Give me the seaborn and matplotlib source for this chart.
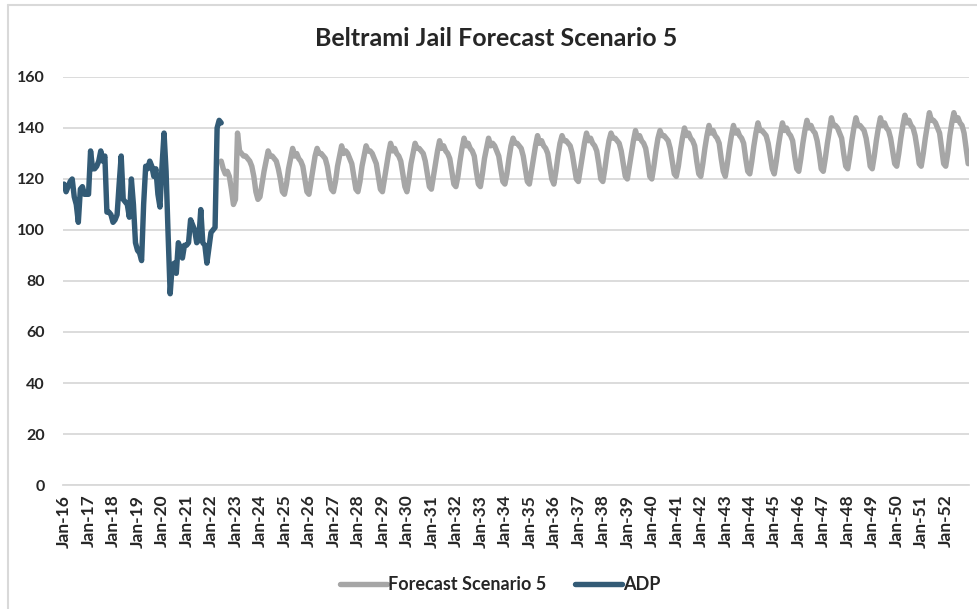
import pandas as pd
import matplotlib
matplotlib.use("Agg")
import matplotlib.pyplot as plt
import seaborn as sns
from matplotlib.lines import Line2D

# Month categories Jan-16 .. Dec-52
months = pd.date_range("2016-01-01", "2052-12-01", freq="MS")
month_labels = [d.strftime("%b-%y") for d in months]

# Actual average daily population, Jan-16 .. Jun-22
adp = [
    118, 115, 117, 119, 120, 113, 110, 103, 116, 117, 114, 114,   # 2016
    114, 131, 124, 124, 125, 127, 131, 127, 129, 107, 107, 106,   # 2017
    103, 104, 106, 118, 129, 112, 111, 110, 105, 120, 110, 95,    # 2018
    92, 91, 88, 110, 125, 124, 127, 125, 121, 124, 114, 109,      # 2019
    125, 138, 123, 98, 75, 86, 87, 83, 95, 93, 89, 94,            # 2020
    94, 95, 104, 102, 100, 95, 96, 108, 95, 94, 87, 93,           # 2021
    99, 100, 101, 140, 143, 142,                                  # 2022
]

# Forecast scenario 5, Jun-22 .. Dec-52
forecast_start = 77
forecast = [
    127, 124, 122, 123, 121, 116, 110,                            # 2022
    112, 138, 131, 130, 129, 129, 128, 127, 125, 121, 115, 112,   # 2023
    113, 118, 123, 127, 131, 129, 129, 128, 127, 124, 120, 115,   # 2024
    114, 118, 124, 128, 132, 129, 130, 128, 127, 125, 120, 115,   # 2025
    114, 119, 124, 129, 132, 130, 130, 129, 128, 125, 120, 116,   # 2026
    115, 119, 125, 129, 133, 130, 131, 130, 128, 126, 121, 116,   # 2027
    115, 119, 125, 129, 133, 131, 131, 130, 128, 126, 121, 116,   # 2028
    115, 120, 125, 130, 134, 131, 132, 130, 129, 127, 122, 117,   # 2029
    115, 120, 126, 130, 134, 132, 132, 131, 130, 127, 122, 117,   # 2030
    116, 121, 126, 131, 135, 132, 133, 131, 130, 128, 123, 118,   # 2031
    117, 121, 127, 132, 136, 133, 134, 132, 131, 129, 123, 118,   # 2032
    117, 122, 128, 132, 136, 133, 134, 133, 131, 129, 124, 119,   # 2033
    118, 122, 128, 133, 136, 134, 134, 133, 132, 129, 124, 119,   # 2034
    118, 123, 128, 133, 137, 134, 135, 133, 132, 130, 125, 120,   # 2035
    118, 123, 129, 134, 137, 135, 135, 134, 133, 130, 125, 120,   # 2036
    119, 124, 129, 134, 138, 135, 136, 134, 133, 131, 126, 120,   # 2037
    119, 124, 130, 135, 138, 136, 136, 135, 134, 131, 126, 121,   # 2038
    120, 125, 130, 135, 139, 136, 137, 135, 134, 132, 127, 121,   # 2039
    120, 125, 131, 136, 139, 137, 137, 136, 135, 132, 127, 122,   # 2040
    121, 125, 131, 136, 140, 137, 138, 136, 135, 133, 127, 122,   # 2041
    121, 126, 132, 137, 141, 138, 139, 137, 136, 134, 128, 123,   # 2042
    121, 126, 132, 137, 141, 138, 139, 137, 136, 134, 128, 123,   # 2043
    122, 127, 133, 138, 142, 139, 139, 138, 137, 134, 129, 124,   # 2044
    122, 127, 133, 138, 142, 139, 140, 138, 137, 135, 129, 124,   # 2045
    123, 128, 134, 139, 143, 140, 141, 139, 138, 135, 130, 124,   # 2046
    123, 128, 134, 139, 144, 141, 141, 140, 138, 136, 130, 125,   # 2047
    124, 129, 135, 140, 144, 141, 141, 140, 139, 136, 131, 125,   # 2048
    124, 129, 135, 140, 144, 141, 142, 140, 139, 136, 131, 126,   # 2049
    125, 130, 136, 141, 145, 142, 143, 141, 140, 137, 132, 126,   # 2050
    125, 130, 136, 141, 146, 143, 143, 142, 140, 138, 132, 126,   # 2051
    125, 130, 137, 142, 146, 143, 144, 142, 141, 138, 132, 126,   # 2052
]

y_ticks = [0, 20, 40, 60, 80, 100, 120, 140, 160]

gray = "#a6a6a6"
blue = "#335b76"
grid_col = "#d9d9d9"

adp_df = pd.DataFrame({"month": range(len(adp)), "value": adp})
fc_df = pd.DataFrame({"month": range(forecast_start, forecast_start + len(forecast)),
                      "value": forecast})

sns.set_style("white")
plt.rcParams["font.family"] = ["Lato", "DejaVu Sans"]

fig = plt.figure(figsize=(9.77, 6.09), dpi=100)
ax = fig.add_axes([0.0645, 0.2036, 0.9275, 0.6700])

sns.lineplot(data=fc_df, x="month", y="value", color=gray, lw=3.9, ax=ax,
             solid_capstyle="round", solid_joinstyle="round")
sns.lineplot(data=adp_df, x="month", y="value", color=blue, lw=3.9, ax=ax,
             solid_capstyle="round", solid_joinstyle="round")

ax.set_ylim(0, 160)
ax.set_xlim(-0.5, len(months) - 0.5)
ax.set_yticks(y_ticks)
ax.set_yticklabels([str(v) for v in y_ticks], fontsize=11.5, fontweight="bold")
ax.set_xticks(range(0, len(months), 12))
ax.set_xticklabels(month_labels[::12], rotation=90, fontsize=12.5, fontweight="bold")
ax.set_xlabel("")
ax.set_ylabel("")

ax.grid(axis="y", color=grid_col, lw=1.3)
ax.set_axisbelow(True)
for s in ["top", "right", "left"]:
    ax.spines[s].set_visible(False)
ax.spines["bottom"].set_color(grid_col)
ax.spines["bottom"].set_linewidth(1.3)
ax.tick_params(axis="y", length=0, pad=13)
ax.tick_params(axis="x", length=4, color=grid_col, width=1, pad=3)

fig.text(496 / 977, 1 - 38 / 609, "Beltrami Jail Forecast Scenario 5",
         ha="center", va="center", fontsize=18, fontweight="bold")

handles = [Line2D([], [], color=gray, lw=3.9, solid_capstyle="round"),
           Line2D([], [], color=blue, lw=3.9, solid_capstyle="round")]
fig.legend(handles, ["Forecast Scenario 5", "ADP"], loc="center",
           bbox_to_anchor=(500 / 977, 1 - 585 / 609), ncol=2, frameon=False,
           handlelength=2.6, handletextpad=0.05, columnspacing=1.6,
           prop={"size": 13, "weight": "bold"})

# chart border (cropped at right and bottom)
fig.add_artist(Line2D([8 / 977, 8 / 977], [0, 1 - 5 / 609], color=grid_col, lw=1.5))
fig.add_artist(Line2D([8 / 977, 1], [1 - 5 / 609, 1 - 5 / 609], color=grid_col, lw=1.5))

fig.savefig("out.png", dpi=100)
